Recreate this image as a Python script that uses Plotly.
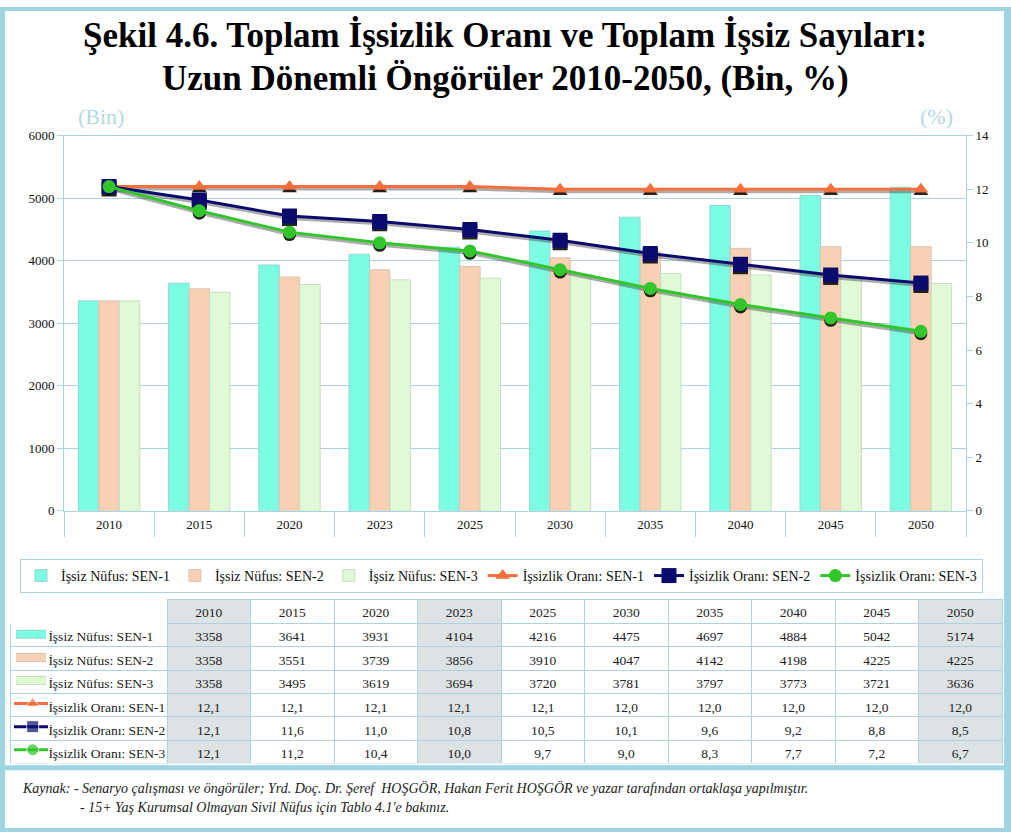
import plotly.graph_objects as go

W, H = 1011, 840

# ---------------- data ----------------
years = ['2010', '2015', '2020', '2023', '2025', '2030', '2035', '2040', '2045', '2050']
nufus_sen1 = [3358, 3641, 3931, 4104, 4216, 4475, 4697, 4884, 5042, 5174]
nufus_sen2 = [3358, 3551, 3739, 3856, 3910, 4047, 4142, 4198, 4225, 4225]
nufus_sen3 = [3358, 3495, 3619, 3694, 3720, 3781, 3797, 3773, 3721, 3636]
oran_sen1 = [12.1, 12.1, 12.1, 12.1, 12.1, 12.0, 12.0, 12.0, 12.0, 12.0]
oran_sen2 = [12.1, 11.6, 11.0, 10.8, 10.5, 10.1, 9.6, 9.2, 8.8, 8.5]
oran_sen3 = [12.1, 11.2, 10.4, 10.0, 9.7, 9.0, 8.3, 7.7, 7.2, 6.7]
left_ticks = [0, 1000, 2000, 3000, 4000, 5000, 6000]
right_ticks = [0, 2, 4, 6, 8, 10, 12, 14]
bar_names = ['İşsiz Nüfus: SEN-1', 'İşsiz Nüfus: SEN-2', 'İşsiz Nüfus: SEN-3']
line_names = ['İşsizlik Oranı: SEN-1', 'İşsizlik Oranı: SEN-2', 'İşsizlik Oranı: SEN-3']
shaded_years = ['2010', '2023', '2050']

# ---------------- style ----------------
SERIF = 'Liberation Serif'
FRAME = '#9fd4e2'
AXC = '#a9d4e0'
BAR_COLORS = ['#7dfce4', '#f8d0b3', '#e0fad6']
BAR_LINES = ['#8fd8d0', '#d9c3b6', '#c8dcc4']
LINE_COLORS = ['#f2703d', '#0b0b6e', '#33c62c']
SYMBOLS = ['triangle-up', 'square', 'circle']
MSIZES = [13, 15, 13]
GREY = '#dde2e4'
CLEAR = 'rgba(0,0,0,0)'


def px(x):
    return x / W


def py(y):
    return 1 - y / H


fig = go.Figure()

# bars
for name, vals, col, lc in zip(bar_names, [nufus_sen1, nufus_sen2, nufus_sen3], BAR_COLORS, BAR_LINES):
    fig.add_trace(go.Bar(x=years, y=vals, name=name, marker=dict(color=col, line=dict(color=lc, width=1)),
                         xaxis='x', yaxis='y'))

# line shadows (on a hidden, slightly shifted axis)
for vals, sym, ms in zip([oran_sen1, oran_sen2, oran_sen3], SYMBOLS, MSIZES):
    fig.add_trace(go.Scatter(x=years, y=vals, mode='lines+markers', showlegend=False, hoverinfo='skip',
                             line=dict(color='rgba(70,70,70,0.45)', width=3),
                             marker=dict(symbol=sym, size=ms, color='rgba(10,10,10,0.9)'),
                             xaxis='x', yaxis='y2'))

# lines
for name, vals, col, sym, ms in zip(line_names, [oran_sen1, oran_sen2, oran_sen3], LINE_COLORS, SYMBOLS, MSIZES):
    fig.add_trace(go.Scatter(x=years, y=vals, name=name, mode='lines+markers',
                             line=dict(color=col, width=3),
                             marker=dict(symbol=sym, size=ms, color=col),
                             xaxis='x', yaxis='y3'))

# ---------------- table ----------------
def fmt(v):
    return f'{v:.1f}'.replace('.', ',')

NB = '\u00a0'
row_labels = [NB * 9 + nm.replace(' ', NB) for nm in bar_names + line_names]
series = [nufus_sen1, nufus_sen2, nufus_sen3, oran_sen1, oran_sen2, oran_sen3]
columns = [row_labels]
for i, yv in enumerate(years):
    col = [str(s[i]) for s in series[:3]] + [fmt(s[i]) for s in series[3:]]
    columns.append(col)

col_fill = [CLEAR] + [GREY if y in shaded_years else 'white' for y in years]
fig.add_trace(go.Table(
    domain=dict(x=[px(10), px(1002)], y=[py(770), py(603)]),
    columnwidth=[157] + [83.5] * len(years),
    header=dict(values=[''] + years, fill=dict(color=col_fill),
                line=dict(color=['white'] + [AXC] * len(years), width=1),
                align='center', height=24, font=dict(family=SERIF, size=13.5, color='#222')),
    cells=dict(values=columns, fill=dict(color=col_fill),
               line=dict(color=AXC, width=1), height=23.4,
               align=['left'] + ['center'] * len(years),
               font=dict(family=SERIF, size=13.5, color='#222')),
))

# row icons in the table's label column (drawn on a hidden helper axis)
icon_rows = [5.5 - i for i in range(6)]
for i, col in enumerate(BAR_COLORS):
    fig.add_trace(go.Scatter(x=[0.06, 0.94], y=[icon_rows[i]] * 2, mode='lines', showlegend=False,
                             hoverinfo='skip', line=dict(color=BAR_LINES[i], width=9),
                             xaxis='x2', yaxis='y4'))
    fig.add_trace(go.Scatter(x=[0.07, 0.93], y=[icon_rows[i]] * 2, mode='lines', showlegend=False,
                             hoverinfo='skip', line=dict(color=col, width=7),
                             xaxis='x2', yaxis='y4'))
for j, (col, sym) in enumerate(zip(LINE_COLORS, SYMBOLS)):
    r = icon_rows[3 + j]
    fig.add_trace(go.Scatter(x=[0, 0.55, 1], y=[r, r, r], mode='lines+markers', showlegend=False,
                             hoverinfo='skip', line=dict(color=col, width=3),
                             marker=dict(symbol=sym, size=[0, 12, 0], color=col),
                             xaxis='x2', yaxis='y4'))

# ---------------- layout ----------------
dom_x = [px(64), px(966)]
dom_y = [py(513), py(131)]
shift = 14 / 382 * 2.5

fig.update_layout(
    width=W, height=H, margin=dict(l=0, r=0, t=0, b=0),
    paper_bgcolor='white', plot_bgcolor='white',
    barmode='group', bargap=0.32, bargroupgap=0,
    font=dict(family=SERIF, size=13, color='#111'),
    xaxis=dict(domain=dom_x, type='category', range=[-0.5, 9.5], showgrid=False,
               showline=True, linecolor=AXC, linewidth=1, mirror=True,
               ticks='outside', tickson='boundaries', ticklen=25, tickcolor=AXC,
               ticklabelstandoff=2, tickfont=dict(family=SERIF, size=13, color='#111'),
               anchor='y'),
    yaxis=dict(domain=dom_y, range=[0, 6000], tickvals=left_ticks, showgrid=True, gridcolor=AXC,
               zeroline=False, showline=True, linecolor=AXC, ticks='outside', ticklen=6, tickcolor=AXC,
               tickfont=dict(family=SERIF, size=13, color='#111'), anchor='x'),
    yaxis2=dict(overlaying='y', range=[shift, 14 + shift], visible=False, anchor='x'),
    yaxis3=dict(overlaying='y', side='right', range=[0, 14], tickvals=right_ticks, showgrid=False,
                zeroline=False, showline=True, linecolor=AXC, ticks='outside', ticklen=6, tickcolor=AXC,
                tickfont=dict(family=SERIF, size=13, color='#111'), anchor='x'),
    xaxis2=dict(domain=[px(14), px(48)], range=[0, 1], visible=False, anchor='y4', fixedrange=True),
    yaxis4=dict(domain=[py(768), py(627)], range=[0, 6], visible=False, anchor='x2', fixedrange=True),
    legend=dict(orientation='h', x=px(20), y=py(562), xanchor='left', yanchor='top',
                bordercolor=AXC, borderwidth=1, bgcolor='white',
                font=dict(family=SERIF, size=14, color='#111'),
                traceorder='normal', itemwidth=30),
    showlegend=True,
)

# frame
shapes = [
    dict(type='rect', xref='paper', yref='paper', x0=0, x1=px(5), y0=0, y1=1, fillcolor=FRAME, line_width=0),
    dict(type='rect', xref='paper', yref='paper', x0=px(1004), x1=1, y0=0, y1=1, fillcolor=FRAME, line_width=0),
    dict(type='rect', xref='paper', yref='paper', x0=0, x1=1, y0=py(4), y1=1, fillcolor=FRAME, line_width=0),
    dict(type='rect', xref='paper', yref='paper', x0=0, x1=1, y0=0, y1=py(836), fillcolor=FRAME, line_width=0),
    dict(type='rect', xref='paper', yref='paper', x0=0, x1=1, y0=py(777), y1=py(772), fillcolor=FRAME, line_width=0),
]
fig.update_layout(shapes=shapes)

ann = [
    dict(text='<b>Şekil 4.6. Toplam İşsizlik Oranı ve Toplam İşsiz Sayıları:</b>', x=px(505), y=py(29),
         font=dict(family=SERIF, size=35, color='#000')),
    dict(text='<b>Uzun Dönemli Öngörüler 2010-2050, (Bin, %)</b>', x=px(505), y=py(73),
         font=dict(family=SERIF, size=35, color='#000')),
    dict(text='(Bin)', x=px(101), y=py(112), font=dict(family=SERIF, size=22, color='#b3d9e3')),
    dict(text='(%)', x=px(936), y=py(112), font=dict(family=SERIF, size=22, color='#b3d9e3')),
    dict(text='<i>Kaynak: - Senaryo çalışması ve öngörüler; Yrd. Doç. Dr. Şeref  HOŞGÖR, Hakan Ferit HOŞGÖR ve yazar tarafından ortaklaşa yapılmıştır.</i>',
         x=px(20), y=py(795), xanchor='left', font=dict(family=SERIF, size=14, color='#222')),
    dict(text='<i>- 15+ Yaş Kurumsal Olmayan Sivil Nüfus için Tablo 4.1\'e bakınız.</i>',
         x=px(78), y=py(815), xanchor='left', font=dict(family=SERIF, size=14, color='#222')),
]
for a in ann:
    a.setdefault('xanchor', 'center')
    fig.add_annotation(xref='paper', yref='paper', showarrow=False, yanchor='middle', **a)

fig.write_html('out.html', config={'displayModeBar': False},
               post_script="document.body.style.margin='0';")
